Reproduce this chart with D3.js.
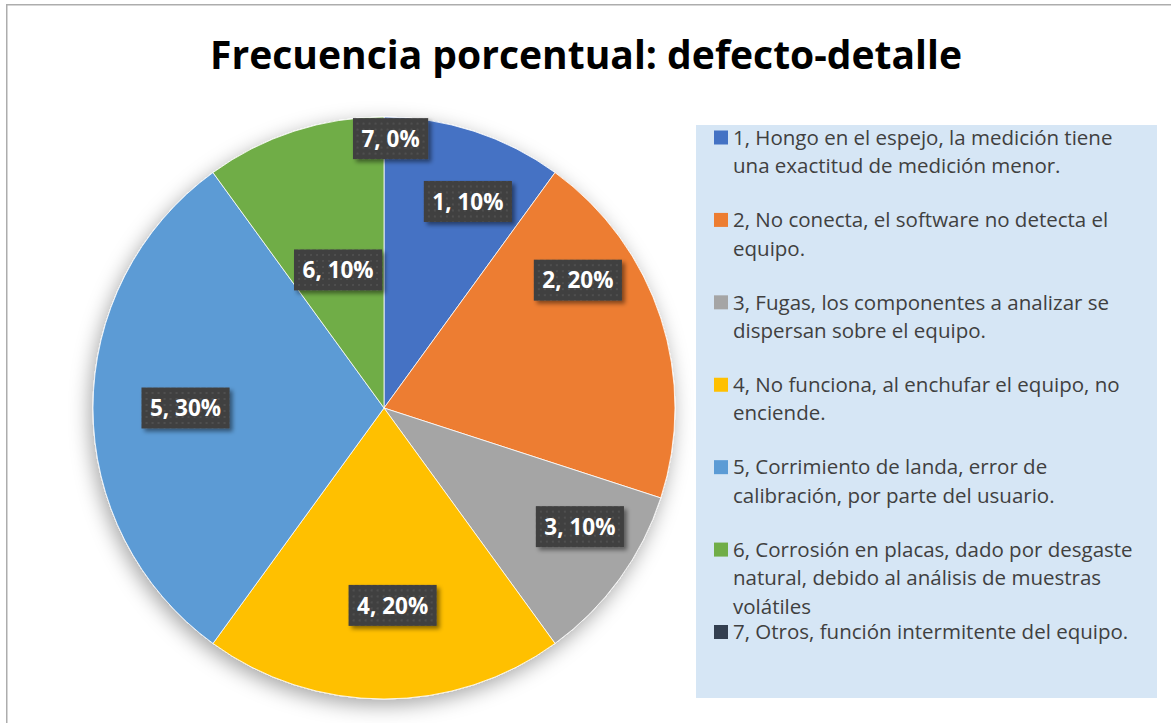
<!DOCTYPE html>
<html>
<head>
<meta charset="utf-8">
<script src="https://cdn.jsdelivr.net/npm/d3@7/dist/d3.min.js"></script>
<style>
  html, body { margin: 0; padding: 0; background: #fff; }
  svg { display: block; }
</style>
</head>
<body>
<svg id="chart" width="1171" height="723"></svg>
<script>
// ---- data ----
const title = "Frecuencia porcentual: defecto-detalle";
const categories = ["1", "2", "3", "4", "5", "6", "7"];
const values = [10, 20, 10, 20, 30, 10, 0];
const legendLines = [
  ["1, Hongo en el espejo, la medición tiene", "una exactitud de medición menor."],
  ["2, No conecta, el software no detecta el", "equipo."],
  ["3, Fugas, los componentes a analizar se", "dispersan sobre el equipo."],
  ["4, No funciona, al enchufar el equipo, no", "enciende."],
  ["5, Corrimiento de landa, error de", "calibración, por parte del usuario."],
  ["6, Corrosión en placas, dado por desgaste", "natural, debido al análisis de muestras", "volátiles"],
  ["7, Otros, función intermitente del equipo."]
];
const colors = ["#4472C4", "#ED7D31", "#A5A5A5", "#FFC000", "#5B9BD5", "#70AD47", "#333F50"];

// ---- layout (label placement emulating Excel "best fit") ----
const labelAngleShift = [4.1, -15.4, -4.8, -2.5, 0, -0.4, 1.4]; // degrees from slice mid-angle
const labelRadiusFrac = [0.766, 0.798, 0.787, 0.679, 0.682, 0.50, 0.926];

const svg = d3.select("#chart");
const defs = svg.append("defs");

// pie shadow
const f1 = defs.append("filter").attr("id", "pieShadow")
  .attr("x", "-20%").attr("y", "-20%").attr("width", "140%").attr("height", "140%");
f1.append("feDropShadow").attr("dx", -3).attr("dy", 6).attr("stdDeviation", 10)
  .attr("flood-color", "#000").attr("flood-opacity", 0.35);

// label shadow
const f2 = defs.append("filter").attr("id", "lblShadow")
  .attr("x", "-20%").attr("y", "-30%").attr("width", "150%").attr("height", "170%");
f2.append("feDropShadow").attr("dx", 3).attr("dy", 3).attr("stdDeviation", 2)
  .attr("flood-color", "#000").attr("flood-opacity", 0.45);

// dotted pattern for label boxes
const pat = defs.append("pattern").attr("id", "dots")
  .attr("patternUnits", "userSpaceOnUse").attr("width", 6).attr("height", 6);
pat.append("rect").attr("width", 6).attr("height", 6).attr("fill", "#404040");
pat.append("rect").attr("x", 2).attr("y", 2).attr("width", 2).attr("height", 2).attr("fill", "#4f4f4f");

// outer chart border (only top/left visible in the crop)
svg.append("rect")
  .attr("x", 6.75).attr("y", 4.75).attr("width", 1300).attr("height", 900)
  .attr("fill", "#fff").attr("stroke", "#ADADAD").attr("stroke-width", 1.5);

// title
const titleText = svg.append("text")
  .attr("x", 586).attr("y", 69)
  .attr("text-anchor", "middle")
  .attr("font-family", "'Open Sans', sans-serif")
  .attr("font-weight", 700)
  .attr("font-size", 40)
  .attr("fill", "#000")
  .text(title);
const tw = titleText.node().getComputedTextLength();
if (Math.abs(tw - 752) > 4) titleText.attr("textLength", 752).attr("lengthAdjust", "spacingAndGlyphs");

// pie
const cx = 384, cy = 408, R = 291;
const pie = d3.pie().sort(null).value(d => d).startAngle(0).endAngle(2 * Math.PI);
const arcs = pie(values);
const arc = d3.arc().innerRadius(0).outerRadius(R);

const g = svg.append("g").attr("transform", `translate(${cx},${cy})`);
const slices = g.append("g").attr("filter", "url(#pieShadow)");
slices.selectAll("path").data(arcs).join("path")
  .attr("d", arc)
  .attr("fill", (d, i) => colors[i])
  .attr("stroke", "#fff")
  .attr("stroke-width", d => d.value > 0 ? 0.8 : 0);

// data labels
const lblG = g.append("g");
arcs.forEach((d, i) => {
  const mid = (d.startAngle + d.endAngle) / 2 + labelAngleShift[i] * Math.PI / 180;
  const rr = labelRadiusFrac[i] * R;
  const pos = d3.arc().innerRadius(rr).outerRadius(rr).centroid({startAngle: mid, endAngle: mid});
  const lg = lblG.append("g").attr("transform", `translate(${pos[0]},${pos[1]})`);
  const rect = lg.append("rect").attr("fill", "url(#dots)").attr("filter", "url(#lblShadow)");
  const t = lg.append("text")
    .attr("text-anchor", "middle")
    .attr("dy", "0.36em")
    .attr("font-family", "'Open Sans', sans-serif")
    .attr("font-weight", 700)
    .attr("font-size", 22.5)
    .attr("fill", "#fff")
    .text(`${categories[i]}, ${d3.format(".0%")(d.value / d3.sum(values))}`);
  const w = t.node().getComputedTextLength() + 17;
  rect.attr("x", -w / 2).attr("y", -20.5).attr("width", w).attr("height", 41);
});

// legend
const lgX = 696, lgY = 125, lgW = 461, lgH = 573;
svg.append("rect").attr("x", lgX).attr("y", lgY).attr("width", lgW).attr("height", lgH)
  .attr("fill", "#D6E6F5");

const entryY = d3.scaleLinear().domain([0, categories.length - 1]).range([137.5, 632]);
const lineH = 28.5;
const legG = svg.append("g");
legendLines.forEach((lines, i) => {
  const y0 = entryY(i);
  legG.append("rect").attr("x", 714).attr("y", y0 - 7).attr("width", 14).attr("height", 14)
    .attr("fill", colors[i]);
  const t = legG.append("text")
    .attr("font-family", "'Open Sans', sans-serif")
    .attr("font-size", 20.5)
    .attr("fill", "#404040");
  lines.forEach((ln, j) => {
    t.append("tspan").attr("x", 733).attr("y", y0 + j * lineH).attr("dy", "0.35em").text(ln);
  });
});
</script>
</body>
</html>
